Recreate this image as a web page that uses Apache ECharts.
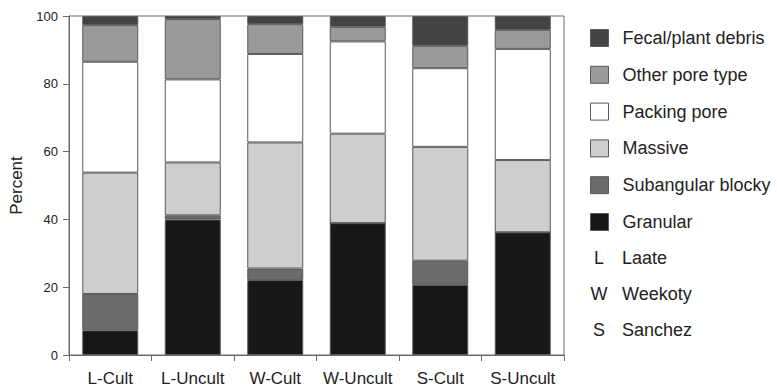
<!DOCTYPE html>
<html><head><meta charset="utf-8">
<script src="https://cdn.jsdelivr.net/npm/echarts@6/dist/echarts.min.js"></script>
<style>html,body{margin:0;padding:0;background:#fff}#c{width:777px;height:389px}</style>
</head><body><div id="c"></div>
<script>
const categories = ['L-Cult','L-Uncult','W-Cult','W-Uncult','S-Cult','S-Uncult'];
const granular   = [7.3, 40.0, 22.1, 38.9, 20.7, 36.2];
const subangular = [10.7, 1.2, 3.4, 0, 7.1, 0];
const massive    = [35.8, 15.6, 37.2, 26.4, 33.6, 21.3];
const packing    = [32.7, 24.5, 26.1, 27.2, 23.2, 32.8];
const otherPore  = [10.8, 17.8, 8.8, 4.3, 6.6, 5.6];
const fecal      = [2.7, 0.9, 2.4, 3.2, 8.8, 4.1];
const yTicks = [0, 20, 40, 60, 80, 100];
const siteKeys = [['L','Laate'],['W','Weekoty'],['S','Sanchez']];

const seriesDefs = [
  ['Granular', granular, '#171717'],
  ['Subangular blocky', subangular, '#6b6b6b'],
  ['Massive', massive, '#cecece'],
  ['Packing pore', packing, '#ffffff'],
  ['Other pore type', otherPore, '#9a9a9a'],
  ['Fecal/plant debris', fecal, '#434343']
];
const font = 'Liberation Sans, Arial, sans-serif';
const chart = echarts.init(document.getElementById('c'), null, {renderer:'svg'});
const series = seriesDefs.map(([name, data, color]) => ({
  name, type:'bar', stack:'all', data, barWidth: 56,
  itemStyle:{color, borderColor:'#5a5a5a', borderWidth:1},
  emphasis:{disabled:true}
}));
const rowY = [257.7, 294, 330];
const graphics = [];
siteKeys.forEach(([k, label], i) => {
  graphics.push({type:'text', x: 599, y: rowY[i], style:{text:k, font:'18px '+font, fill:'#222', align:'center', verticalAlign:'middle'}});
  graphics.push({type:'text', x: 622, y: rowY[i], style:{text:label, font:'18px '+font, fill:'#222', align:'left', verticalAlign:'middle'}});
});
chart.setOption({
  animation:false,
  textStyle:{fontFamily:font},
  grid:{left:67, right:213, top:16, bottom:34, show:true, borderColor:'#6a6a6a', borderWidth:1, backgroundColor:'transparent'},
  xAxis:{type:'category', data:categories, boundaryGap:true,
    axisLine:{lineStyle:{color:'#6a6a6a', width:1}},
    axisTick:{show:true, length:6, alignWithLabel:false, lineStyle:{color:'#6a6a6a'}},
    axisLabel:{color:'#222', fontSize:17, margin:15, interval:0}},
  yAxis:{type:'value', min:0, max:100, interval:20,
    name:'Percent', nameLocation:'middle', nameGap:44, nameRotate:90,
    nameTextStyle:{color:'#222', fontSize:17},
    splitLine:{show:false},
    axisLine:{show:true, lineStyle:{color:'#6a6a6a', width:1}},
    axisTick:{show:true, length:6, lineStyle:{color:'#6a6a6a'}},
    axisLabel:{color:'#222', fontSize:13, margin:11,
      formatter: v => yTicks.includes(v) ? String(v) : ''}},
  legend:{orient:'vertical', left:590, top:29, padding:0, itemWidth:18, itemHeight:17, itemGap:18.8,
    data: seriesDefs.map(s => s[0]).reverse(),
    icon:'rect', selectedMode:false,
    itemStyle:{borderColor:'#5a5a5a', borderWidth:1},
    textStyle:{color:'#222', fontSize:18, lineHeight:17, padding:[0,0,0,9]}},
  graphic: graphics,
  series
});
</script></body></html>
